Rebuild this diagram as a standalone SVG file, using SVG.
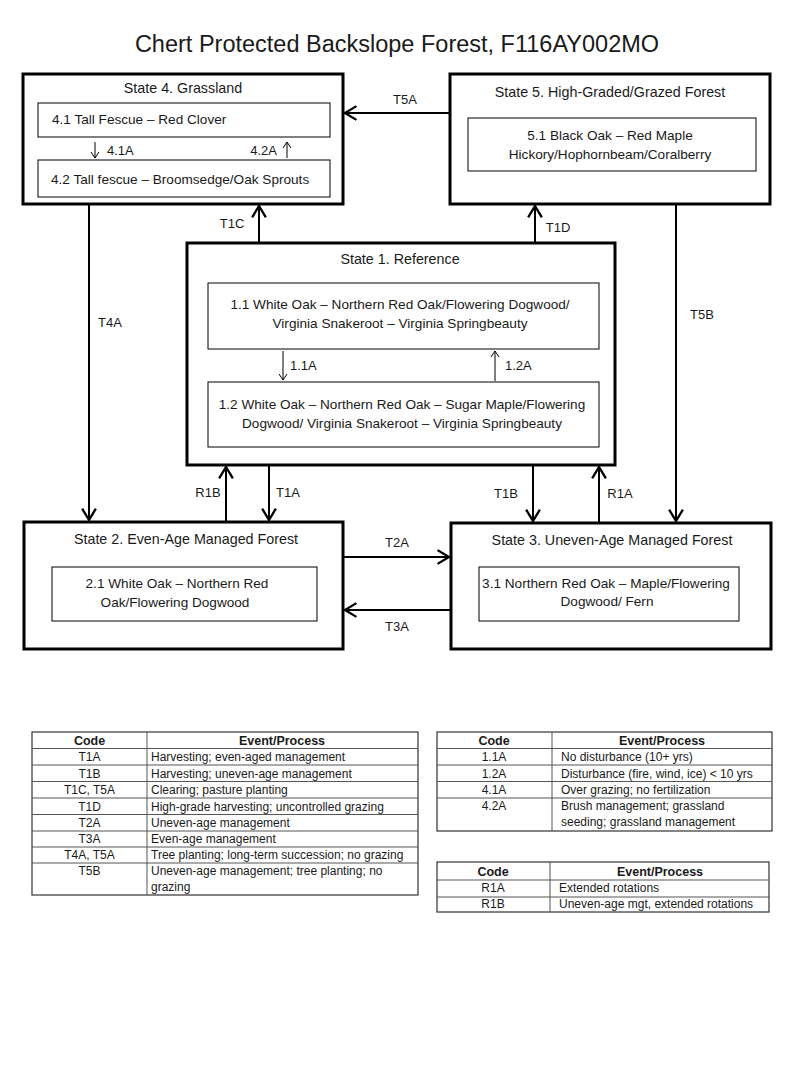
<svg xmlns="http://www.w3.org/2000/svg" width="800" height="1067" viewBox="0 0 800 1067">
<style>
text{font-family:"Liberation Sans",Arial,sans-serif;fill:#1a1a1a}
.title{font-size:23.5px}
.st{font-size:14.3px}
.sp{font-size:13.6px}
.lb{font-size:13px}
.tb{font-size:12px}
.th{font-size:12.5px;font-weight:bold}
.state{fill:#fff;stroke:#000;stroke-width:3}
.phase{fill:#fff;stroke:#000;stroke-width:1}
.conn{stroke:#000;stroke-width:2;fill:none}
.thin{stroke:#000;stroke-width:1;fill:none}
.tbl{fill:#fff;stroke:#333;stroke-width:1.2}
.tl{stroke:#555;stroke-width:1}
.c{text-anchor:middle}
</style>
<defs>
<marker id="ah" markerUnits="userSpaceOnUse" markerWidth="16" markerHeight="16" viewBox="-1 -1 14 14" refX="10" refY="6" orient="auto">
<path d="M0,0 L10,6 L0,12" fill="none" stroke="#000" stroke-width="2"/>
</marker>
<marker id="ahs" markerUnits="userSpaceOnUse" markerWidth="10" markerHeight="10" viewBox="-1 -1 10 10" refX="6" refY="4" orient="auto">
<path d="M0,0 L6,4 L0,8" fill="none" stroke="#000" stroke-width="1"/>
</marker>
</defs>
<rect width="800" height="1067" fill="#fff"/>
<text class="title c" x="397" y="52">Chert Protected Backslope Forest, F116AY002MO</text>

<g id="connectors">
<line class="conn" x1="450" y1="113" x2="345" y2="113" marker-end="url(#ah)"/>
<text class="lb c" x="405" y="104">T5A</text>
<line class="conn" x1="259" y1="242" x2="259" y2="206" marker-end="url(#ah)"/>
<text class="lb c" x="232" y="228">T1C</text>
<line class="conn" x1="535" y1="242" x2="535" y2="206" marker-end="url(#ah)"/>
<text class="lb c" x="558" y="232">T1D</text>
<line class="conn" x1="89" y1="205" x2="89" y2="520" marker-end="url(#ah)"/>
<text class="lb c" x="110" y="327">T4A</text>
<line class="conn" x1="676" y1="205" x2="676" y2="521" marker-end="url(#ah)"/>
<text class="lb c" x="702" y="319">T5B</text>
<line class="conn" x1="226" y1="521" x2="226" y2="467" marker-end="url(#ah)"/>
<text class="lb c" x="208" y="497">R1B</text>
<line class="conn" x1="269" y1="466" x2="269" y2="520" marker-end="url(#ah)"/>
<text class="lb c" x="288" y="497">T1A</text>
<line class="conn" x1="533" y1="466" x2="533" y2="521" marker-end="url(#ah)"/>
<text class="lb c" x="506" y="498">T1B</text>
<line class="conn" x1="599" y1="522" x2="599" y2="467" marker-end="url(#ah)"/>
<text class="lb c" x="620" y="498">R1A</text>
<line class="conn" x1="344" y1="557" x2="449" y2="557" marker-end="url(#ah)"/>
<text class="lb c" x="397" y="547">T2A</text>
<line class="conn" x1="450" y1="610" x2="345" y2="610" marker-end="url(#ah)"/>
<text class="lb c" x="397" y="631">T3A</text>
</g>

<g id="state4">
<rect class="state" x="23" y="74" width="320" height="130"/>
<text class="st c" x="183" y="93">State 4. Grassland</text>
<rect class="phase" x="38" y="103" width="292" height="34"/>
<text class="sp" x="52" y="124">4.1 Tall Fescue – Red Clover</text>
<line class="thin" x1="95" y1="142" x2="95" y2="158" marker-end="url(#ahs)"/>
<text class="lb" x="107" y="155">4.1A</text>
<line class="thin" x1="287" y1="158" x2="287" y2="142" marker-end="url(#ahs)"/>
<text class="lb" x="277" y="155" text-anchor="end">4.2A</text>
<rect class="phase" x="38" y="160" width="292" height="37"/>
<text class="sp" x="51" y="184">4.2 Tall fescue – Broomsedge/Oak Sprouts</text>
</g>

<g id="state5">
<rect class="state" x="450" y="74" width="320" height="130"/>
<text class="st c" x="610" y="97">State 5. High-Graded/Grazed Forest</text>
<rect class="phase" x="468" y="118" width="288" height="53"/>
<text class="sp c" x="610" y="140">5.1 Black Oak – Red Maple</text>
<text class="sp c" x="610" y="159">Hickory/Hophornbeam/Coralberry</text>
</g>

<g id="state1">
<rect class="state" x="187" y="243" width="428" height="222"/>
<text class="st c" x="400" y="264">State 1. Reference</text>
<rect class="phase" x="208" y="283" width="391" height="66"/>
<text class="sp c" x="400" y="309">1.1 White Oak – Northern Red Oak/Flowering Dogwood/</text>
<text class="sp c" x="400" y="328">Virginia Snakeroot – Virginia Springbeauty</text>
<line class="thin" x1="283" y1="351" x2="283" y2="380" marker-end="url(#ahs)"/>
<text class="lb" x="290" y="370">1.1A</text>
<line class="thin" x1="495" y1="381" x2="495" y2="351" marker-end="url(#ahs)"/>
<text class="lb" x="505" y="370">1.2A</text>
<rect class="phase" x="208" y="382" width="391" height="65"/>
<text class="sp c" x="402" y="409">1.2 White Oak – Northern Red Oak – Sugar Maple/Flowering</text>
<text class="sp c" x="402" y="428">Dogwood/ Virginia Snakeroot – Virginia Springbeauty</text>
</g>

<g id="state2">
<rect class="state" x="24" y="522" width="319" height="127"/>
<text class="st c" x="186" y="544">State 2. Even-Age Managed Forest</text>
<rect class="phase" x="52" y="567" width="265" height="54"/>
<text class="sp c" x="177" y="588">2.1 White Oak – Northern Red</text>
<text class="sp c" x="175" y="607">Oak/Flowering Dogwood</text>
</g>

<g id="state3">
<rect class="state" x="451" y="523" width="320" height="126"/>
<text class="st c" x="612" y="545">State 3. Uneven-Age Managed Forest</text>
<rect class="phase" x="479" y="567" width="260" height="54"/>
<text class="sp c" x="606" y="588">3.1 Northern Red Oak – Maple/Flowering</text>
<text class="sp c" x="607" y="606">Dogwood/ Fern</text>
</g>

<g id="table1">
<rect class="tbl" x="32" y="732" width="386" height="163"/>
<line class="tl" x1="147" y1="732" x2="147" y2="895"/>
<line class="tl" x1="32" y1="748.5" x2="418" y2="748.5"/>
<line class="tl" x1="32" y1="765" x2="418" y2="765"/>
<line class="tl" x1="32" y1="781.5" x2="418" y2="781.5"/>
<line class="tl" x1="32" y1="798" x2="418" y2="798"/>
<line class="tl" x1="32" y1="814.5" x2="418" y2="814.5"/>
<line class="tl" x1="32" y1="831" x2="418" y2="831"/>
<line class="tl" x1="32" y1="847" x2="418" y2="847"/>
<line class="tl" x1="32" y1="863" x2="418" y2="863"/>
<text class="th c" x="89.5" y="744.5">Code</text>
<text class="th c" x="282" y="744.5">Event/Process</text>
<text class="tb c" x="89.5" y="761">T1A</text><text class="tb" x="151" y="761">Harvesting; even-aged management</text>
<text class="tb c" x="89.5" y="777.5">T1B</text><text class="tb" x="151" y="777.5">Harvesting; uneven-age management</text>
<text class="tb c" x="89.5" y="794">T1C, T5A</text><text class="tb" x="151" y="794">Clearing; pasture planting</text>
<text class="tb c" x="89.5" y="810.5">T1D</text><text class="tb" x="151" y="810.5">High-grade harvesting; uncontrolled grazing</text>
<text class="tb c" x="89.5" y="827">T2A</text><text class="tb" x="151" y="827">Uneven-age management</text>
<text class="tb c" x="89.5" y="843">T3A</text><text class="tb" x="151" y="843">Even-age management</text>
<text class="tb c" x="89.5" y="859">T4A, T5A</text><text class="tb" x="151" y="859">Tree planting; long-term succession; no grazing</text>
<text class="tb c" x="89.5" y="875">T5B</text><text class="tb" x="151" y="875">Uneven-age management; tree planting; no</text>
<text class="tb" x="151" y="891">grazing</text>
</g>

<g id="table2">
<rect class="tbl" x="437" y="732" width="335" height="99"/>
<line class="tl" x1="552" y1="732" x2="552" y2="831"/>
<line class="tl" x1="437" y1="748.5" x2="772" y2="748.5"/>
<line class="tl" x1="437" y1="765" x2="772" y2="765"/>
<line class="tl" x1="437" y1="781.5" x2="772" y2="781.5"/>
<line class="tl" x1="437" y1="798" x2="772" y2="798"/>
<text class="th c" x="494" y="744.5">Code</text>
<text class="th c" x="662" y="744.5">Event/Process</text>
<text class="tb c" x="494" y="761">1.1A</text><text class="tb" x="561" y="761">No disturbance (10+ yrs)</text>
<text class="tb c" x="494" y="777.5">1.2A</text><text class="tb" x="561" y="777.5">Disturbance (fire, wind, ice) &lt; 10 yrs</text>
<text class="tb c" x="494" y="794">4.1A</text><text class="tb" x="561" y="794">Over grazing; no fertilization</text>
<text class="tb c" x="494" y="810">4.2A</text><text class="tb" x="561" y="810">Brush management; grassland</text>
<text class="tb" x="561" y="826">seeding;  grassland management</text>
</g>

<g id="table3">
<rect class="tbl" x="437" y="862" width="332" height="50"/>
<line class="tl" x1="550" y1="862" x2="550" y2="912"/>
<line class="tl" x1="437" y1="880" x2="769" y2="880"/>
<line class="tl" x1="437" y1="897" x2="769" y2="897"/>
<text class="th c" x="493" y="875.5">Code</text>
<text class="th c" x="660" y="875.5">Event/Process</text>
<text class="tb c" x="493" y="892">R1A</text><text class="tb" x="559" y="892">Extended rotations</text>
<text class="tb c" x="493" y="908">R1B</text><text class="tb" x="559" y="908">Uneven-age mgt, extended rotations</text>
</g>
</svg>
